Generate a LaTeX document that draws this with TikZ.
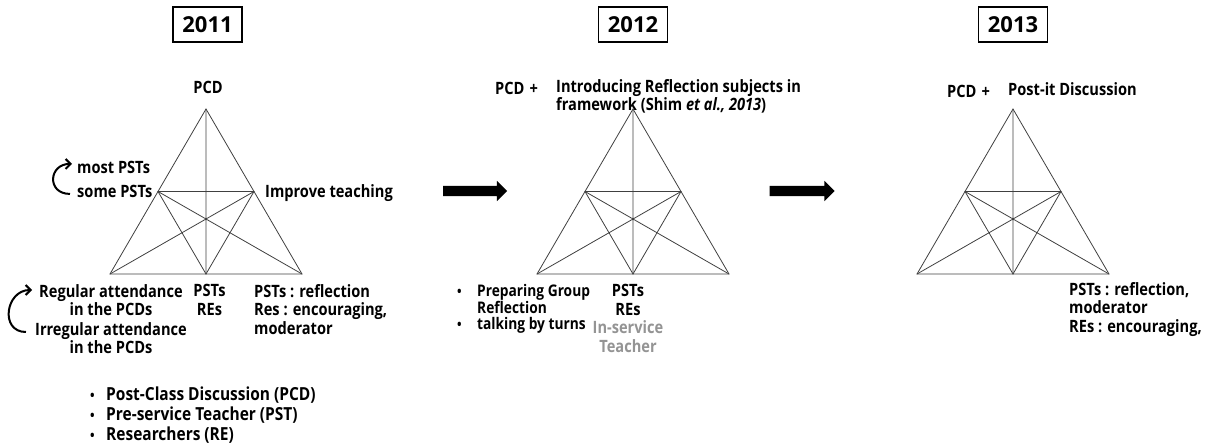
\documentclass[tikz,border=0pt]{standalone}
\usepackage{fontspec}
\setmainfont{Open Sans}[FakeStretch=0.86]
\newfontfamily\yearfont{Open Sans}
\usetikzlibrary{shapes.arrows,arrows.meta}

\tikzset{
  yearbox/.style={draw, line width=1.3pt, minimum width=69pt, minimum height=35pt, inner sep=0pt, font=\yearfont\fontsize{22}{24}\selectfont\bfseries},
  lbl/.style={inner sep=0pt, font=\fontsize{17}{18.5}\selectfont\bfseries},
  intro/.style={inner sep=0pt, font=\fontsize{17}{16.5}\selectfont\bfseries},
  bullets/.style={inner sep=0pt, font=\fontsize{16}{15.8}\selectfont\bfseries},
  keynote/.style={inner sep=0pt, font=\fontsize{18}{20}\selectfont\bfseries, align=left},
  triline/.style={line width=0.8pt, draw=black!75},
  bigarrow/.style={single arrow, fill=black, draw=none, inner sep=5pt, minimum height=64pt, single arrow head extend=5pt},
  turnarrow/.style={line width=2pt, -{Straight Barb[length=5pt,width=10pt]}}
}
\newcommand{\dotitem}[1][16pt]{\makebox[#1][l]{\fontsize{14}{14}\selectfont\textbullet}}

\begin{document}
\begin{tikzpicture}[x=1pt,y=-1pt]
\useasboundingbox (0,0) rectangle (1211,447);

% the three triangles
\foreach \p/\x in {a/206,b/633,c/1013}{
  \coordinate (\p top) at (\x,109);
  \coordinate (\p bl) at (\x-96,274);
  \coordinate (\p br) at (\x+96,274);
  \coordinate (\p ml) at (\x-48,191.5);
  \coordinate (\p mr) at (\x+48,191.5);
  \coordinate (\p mb) at (\x,274);
  \draw[triline] (\p top) -- (\p bl) -- (\p br) -- cycle;
  \draw[triline] (\p ml) -- (\p mr) -- (\p mb) -- cycle;
  \draw[triline] (\p top) -- (\p mb) (\p bl) -- (\p mr) (\p br) -- (\p ml);
}

% years
\node[yearbox] (y2011) at (207.5,24.5) {2011};
\node[yearbox] (y2012) at (633,24.5) {2012};
\node[yearbox] (y2013) at (1013,24.5) {2013};

% 2011
\node[lbl, anchor=base] (pcd1) at (208,93) {PCD};
\node[lbl, anchor=base west] (most) at (77,173) {most PSTs};
\node[lbl, anchor=base west] (some) at (77,197) {some PSTs};
\node[lbl, anchor=base west] (improve) at (265,197) {Improve teaching};
\node[lbl, anchor=north, align=center] (reg) at (111,284) {Regular attendance\\in the PCDs};
\node[lbl, anchor=north, align=center] (irreg) at (111,322) {Irregular attendance\\in the PCDs};
\node[lbl, anchor=north, align=center] (who1) at (209.5,284) {PSTs\\REs};
\node[lbl, anchor=north west, align=left] (role1) at (254,284) {PSTs : reflection\\Res : encouraging,\\moderator};
\node[keynote, anchor=north west] (key) at (90,387) {\dotitem Post-Class Discussion (PCD)\\\dotitem Pre-service Teacher (PST)\\\dotitem Researchers (RE)};

\draw[turnarrow] ([shift={(-7,3)}]some.west) to[out=180,in=180,looseness=2] ([shift={(-5,-3)}]most.west);
\draw[turnarrow] ([shift={(-9,10)}]irreg.north west) to[out=180,in=180,looseness=1.6] ([shift={(-7,6)}]reg.north west);

% 2012
\node[lbl, anchor=base west] (pcd2) at (495,94) {PCD\hspace{5pt}+};
\node[intro, anchor=north west, align=left] (introduce) at (556,79) {Introducing Reflection subjects in\\framework (Shim \textit{et al., 2013})};
\node[bullets, anchor=north west, align=left] (prep) at (457,284) {\dotitem[20pt]Preparing Group\\\hspace*{20pt}Reflection\\\dotitem[20pt]talking by turns};
\node[lbl, anchor=north, align=center] (who2) at (628,284) {PSTs\\REs\\\textcolor{black!42}{In-service}\\\textcolor{black!42}{Teacher}};

% 2013
\node[lbl, anchor=base west] (pcd3) at (947,97) {PCD\hspace{5pt}+};
\node[lbl, anchor=base west] (postit) at (1008,95) {Post-it Discussion};
\node[lbl, anchor=north west, align=left] (role3) at (1069,282) {PSTs : reflection,\\moderator\\REs : encouraging,};

% arrows between years
\node[bigarrow] (go1) at (472.5,191) {};
\node[bigarrow, minimum height=65pt] (go2) at (799.5,191) {};

\end{tikzpicture}
\end{document}
